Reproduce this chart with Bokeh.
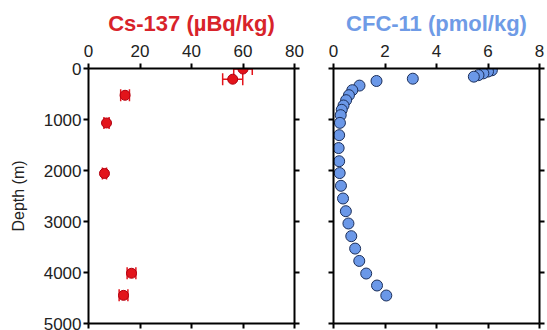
from bokeh.plotting import figure
from bokeh.models import (ColumnDataSource, Range1d, LinearAxis, FixedTicker,
                          Whisker, TeeHead, CustomLabelingPolicy)
from bokeh.layouts import row
from bokeh.embed import file_html
from bokeh.resources import INLINE

# ---- data ----
cs_value = [60.0, 56.0, 14.2, 7.0, 6.2, 16.7, 13.6]
cs_depth = [10, 210, 525, 1068, 2058, 4015, 4448]
cs_err = [3.6, 3.9, 1.7, 1.0, 0.8, 1.7, 1.7]

cfc_value = [6.15, 6.0, 5.82, 5.63, 5.45, 3.08, 1.67, 1.01, 0.73, 0.6, 0.49,
             0.39, 0.32, 0.28, 0.25, 0.22, 0.2, 0.22, 0.24, 0.29, 0.37, 0.48,
             0.58, 0.69, 0.84, 1.0, 1.27, 1.69, 2.05]
cfc_depth = [35, 60, 95, 130, 160, 200, 245, 335, 425, 523, 621, 725, 810,
             915, 1066, 1307, 1560, 1818, 2050, 2300, 2549, 2798, 3039, 3288,
             3531, 3773, 4020, 4255, 4451]

cs_ticks = [0, 20, 40, 60, 80]
cfc_ticks = [0, 2, 4, 6, 8]
depth_ticks = [0, 1000, 2000, 3000, 4000, 5000]

CS_COLOR = "#e3141b"
CS_TITLE = "#d8232a"
CFC_COLOR = "#6b98e8"
CFC_TITLE = "#6f9be6"
FONT = "Liberation Sans"
LABEL_COLOR = "#222222"

NO_LABELS = ("try { for (const i of [...indices]) { indices.unset(i) } } "
             "catch (e) {} return indices")


def style_axis(ax, ticks, labels=True):
    ax.ticker = FixedTicker(ticks=ticks)
    ax.minor_tick_line_color = None
    ax.axis_line_width = 2
    ax.axis_line_color = "black"
    ax.major_tick_line_width = 2
    ax.major_tick_line_color = "black"
    ax.major_tick_out = 5
    ax.major_tick_in = 0
    ax.major_label_text_font = FONT
    ax.major_label_text_color = LABEL_COLOR
    ax.major_label_text_font_size = "17px"
    ax.major_label_standoff = 4
    if not labels:
        ax.major_label_text_font_size = "0px"
        ax.major_label_policy = CustomLabelingPolicy(code=NO_LABELS)
        ax.major_label_standoff = 0


def make_panel(width, left_border, right_border, xr, xticks, title, tcolor,
               ylabels):
    p = figure(width=width, height=330, output_backend="svg",
               toolbar_location=None, x_range=xr,
               y_range=Range1d(5000, 0), x_axis_location=None,
               y_axis_location=None, min_border_left=left_border,
               min_border_right=right_border, min_border_top=68,
               min_border_bottom=7, title=title)
    p.outline_line_color = None
    p.xgrid.visible = False
    p.ygrid.visible = False
    p.title.align = "center"
    p.title.text_font = FONT
    p.title.text_font_size = "22px"
    p.title.text_font_style = "bold"
    p.title.text_color = tcolor
    p.title.standoff = 11

    top = LinearAxis()
    style_axis(top, xticks, True)
    top.major_label_standoff = 7
    p.add_layout(top, "above")
    bottom = LinearAxis()
    style_axis(bottom, xticks, False)
    p.add_layout(bottom, "below")

    left = LinearAxis()
    style_axis(left, depth_ticks, ylabels)
    if ylabels:
        left.major_label_standoff = 2
        left.axis_label = "Depth (m)"
        left.axis_label_text_font = FONT
        left.axis_label_text_font_size = "16px"
        left.axis_label_text_font_style = "normal"
        left.axis_label_text_color = LABEL_COLOR
        left.axis_label_standoff = 14
    p.add_layout(left, "left")
    right = LinearAxis()
    style_axis(right, depth_ticks, False)
    p.add_layout(right, "right")
    return p


p1 = make_panel(310, 88, 16, Range1d(0, 80), cs_ticks,
                "Cs-137 (\u00b5Bq/kg)", CS_TITLE, True)
cs_src = ColumnDataSource(data=dict(
    value=cs_value, depth=cs_depth,
    lo=[v - e for v, e in zip(cs_value, cs_err)],
    hi=[v + e for v, e in zip(cs_value, cs_err)]))
wh = Whisker(base="depth", lower="lo", upper="hi", dimension="width",
             source=cs_src, line_color=CS_COLOR, line_width=1.5,
             upper_head=TeeHead(size=12, line_color=CS_COLOR, line_width=1.5),
             lower_head=TeeHead(size=12, line_color=CS_COLOR, line_width=1.5))
p1.add_layout(wh)
p1.scatter("value", "depth", source=cs_src, size=10, fill_color=CS_COLOR,
           line_color="#b00010", line_width=1)

p2 = make_panel(237, 23, 8, Range1d(0, 8), cfc_ticks,
                "CFC-11 (pmol/kg)", CFC_TITLE, False)
cfc_src = ColumnDataSource(data=dict(value=cfc_value, depth=cfc_depth))
p2.scatter("value", "depth", source=cfc_src, size=11, fill_color=CFC_COLOR,
           line_color="#1c2f5a", line_width=1)

layout = row(p1, p2)
open("out.html", "w").write(file_html(layout, INLINE))
